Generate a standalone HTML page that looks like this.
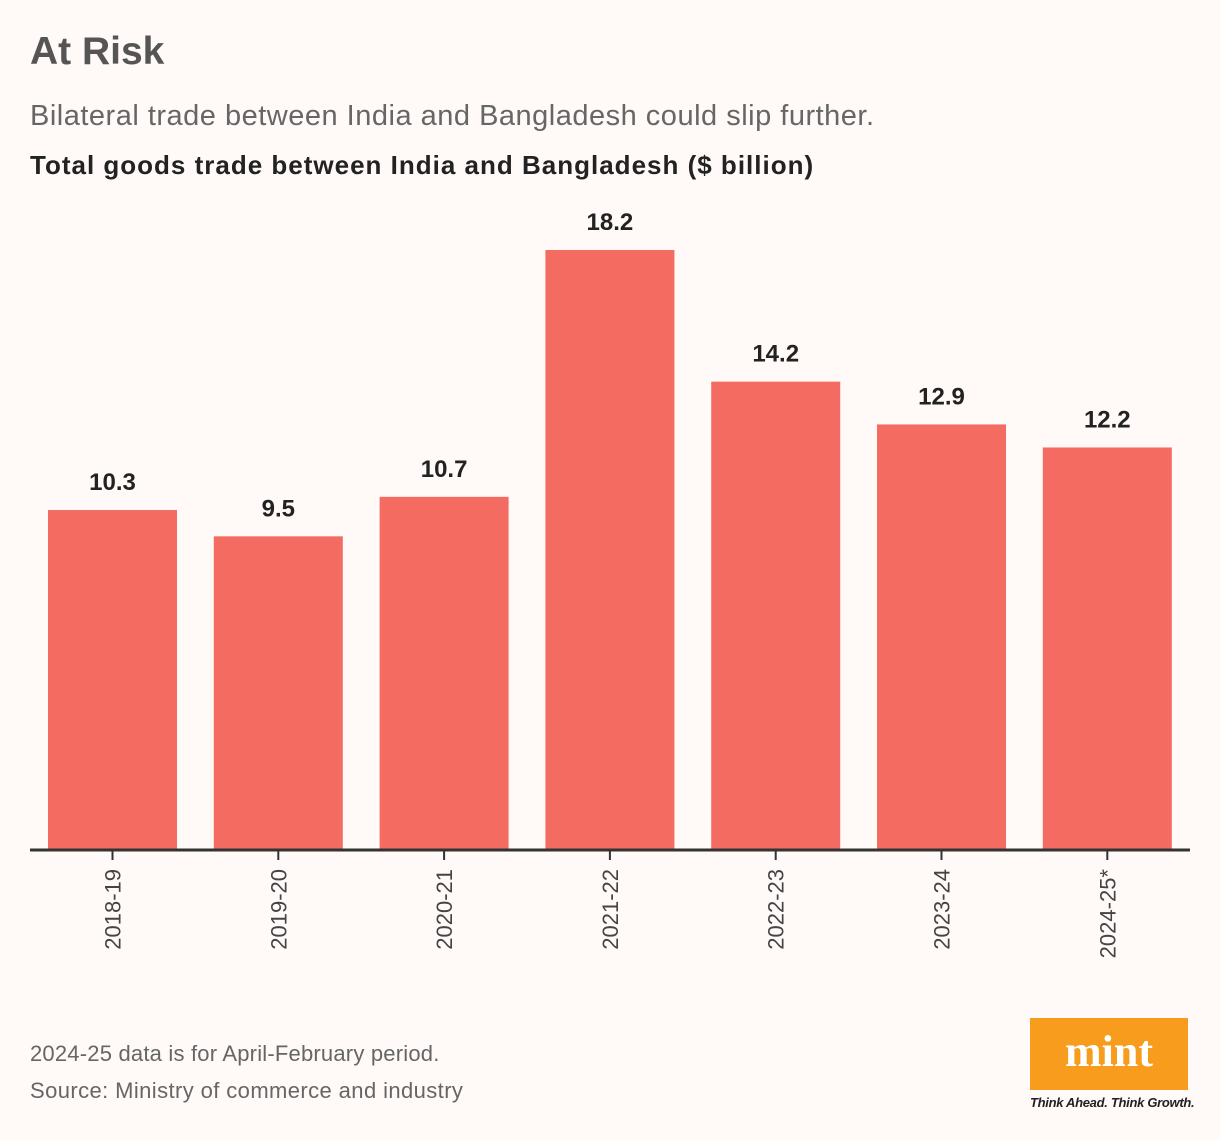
<!DOCTYPE html>
<html><head><meta charset="utf-8"><style>
body{margin:0;background:#fff9f8;font-family:"Liberation Sans",sans-serif;}
#wrap{position:relative;width:1220px;height:1140px;overflow:hidden;background:#fff9f8;}
.t{position:absolute;white-space:nowrap;}
</style></head><body>
<div id="wrap">
<div class="t" style="left:30px;top:30px;font-size:39px;font-weight:bold;color:#555;letter-spacing:0px">At Risk</div>
<div class="t" style="left:30px;top:100px;font-size:29px;color:#666;letter-spacing:0.5px">Bilateral trade between India and Bangladesh could slip further.</div>
<div class="t" style="left:30px;top:150px;font-size:26px;font-weight:bold;color:#222;letter-spacing:1px">Total goods trade between India and Bangladesh ($ billion)</div>
<svg id="chart" width="1220" height="1000" style="position:absolute;left:0;top:0"></svg>
<div class="t" style="left:30px;top:1041px;font-size:22px;color:#666;letter-spacing:0.2px">2024-25 data is for April-February period.</div>
<div class="t" style="left:30px;top:1078px;font-size:22px;color:#666;letter-spacing:0.4px">Source: Ministry of commerce and industry</div>
<div style="position:absolute;left:1030px;top:1018px;width:158px;height:72px;background:#f89c1e;color:#fff;font-family:'Liberation Serif',serif;font-weight:bold;font-size:44px;text-align:center;line-height:68px">mint</div>
<div class="t" style="left:1030px;top:1095px;font-size:13px;font-style:italic;font-weight:bold;color:#222;letter-spacing:-0.3px">Think Ahead. Think Growth.</div>
</div>
<script>
const categories=["2018-19","2019-20","2020-21","2021-22","2022-23","2023-24","2024-25*"];
const values=[10.3,9.5,10.7,18.2,14.2,12.9,12.2];
const valueLabels=["10.3","9.5","10.7","18.2","14.2","12.9","12.2"];
const svg=document.getElementById('chart');
const NS='http://www.w3.org/2000/svg';
const base=849,scale=599/18.2,x0=48,step=165.8,bw=129;
const y=v=>base-v*scale;
const xc=i=>x0+i*step+bw/2;
function mk(tag,attrs){const e=document.createElementNS(NS,tag);for(const k in attrs)e.setAttribute(k,attrs[k]);svg.appendChild(e);return e;}
categories.forEach((c,i)=>{
  const r=mk('rect',{x:xc(i)-bw/2,y:y(values[i]),width:bw,height:values[i]*scale,fill:'#f46b61'});
  
  
  const t=mk('text',{x:xc(i),y:y(values[i])-20,'text-anchor':'middle','font-size':24,'font-weight':'bold',fill:'#222','font-family':'Liberation Sans'});
  t.textContent=valueLabels[i];
  
  
  const tk=mk('line',{x1:xc(i),x2:xc(i),y1:851,y2:860,stroke:'#333','stroke-width':2});
  
  
  const l=mk('text',{transform:`translate(${xc(i)+8},869) rotate(-90)`,'text-anchor':'end','font-size':22,fill:'#444','font-family':'Liberation Sans'});
  l.textContent=c;
  
  
});
const ax=mk('line',{x1:30,x2:1190,y1:850,y2:850,stroke:'#333','stroke-width':3});


</script>
</body></html>
